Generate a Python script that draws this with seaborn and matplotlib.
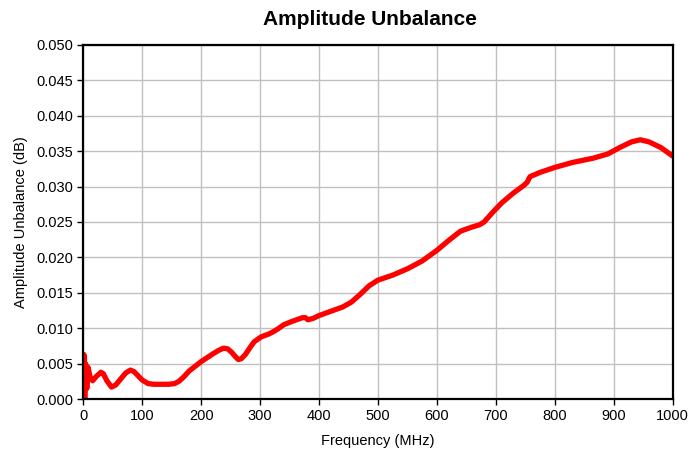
import matplotlib
matplotlib.use("Agg")
import matplotlib.pyplot as plt
import seaborn as sns
import pandas as pd

freq = [0, 1, 2.5, 4, 6, 8, 12, 16, 22, 30, 34, 40, 48, 55, 62, 72, 80, 86,
        93, 100, 110, 120, 130, 145, 155, 162, 170, 180, 200, 220, 230, 238,
        245, 252, 258, 263, 268, 275, 283, 290, 302, 315, 322, 330, 340, 355,
        372, 377, 381, 390, 400, 420, 440, 455, 470, 485, 500, 525, 550, 575,
        600, 620, 640, 660, 672, 680, 695, 710, 730, 748, 753, 758, 775, 800,
        830, 865, 890, 910, 930, 945, 960, 980, 1000]
unbalance = [0.0, 0.0063, 0.0, 0.0050, 0.0015, 0.0045, 0.0030, 0.0026, 0.0032,
             0.0038, 0.0036, 0.0026, 0.0017, 0.0020, 0.0027, 0.0037, 0.0041,
             0.0039, 0.0033, 0.0027, 0.0022, 0.0021, 0.0021, 0.0021, 0.0022,
             0.0025, 0.0031, 0.0040, 0.0053, 0.0064, 0.0069, 0.0072, 0.0071,
             0.0066, 0.0060, 0.0056, 0.0057, 0.0063, 0.0073, 0.0081, 0.0088,
             0.0092, 0.0095, 0.0099, 0.0105, 0.0110, 0.0115, 0.0115, 0.0112,
             0.0114, 0.0118, 0.0124, 0.0130, 0.0137, 0.0148, 0.0160, 0.0168,
             0.0175, 0.0184, 0.0195, 0.0210, 0.0224, 0.0237, 0.0243, 0.0246,
             0.0250, 0.0264, 0.0277, 0.0291, 0.0302, 0.0306, 0.0314, 0.0320,
             0.0327, 0.0334, 0.0340, 0.0346, 0.0355, 0.0363, 0.0366, 0.0363,
             0.0355, 0.0343]
xticks = list(range(0, 1001, 100))
yticks = [i * 0.005 for i in range(11)]

sns.set_style("white")
plt.rcParams['font.family'] = ['Liberation Sans', 'DejaVu Sans']
plt.rcParams['text.color'] = 'black'
plt.rcParams['axes.labelcolor'] = 'black'
plt.rcParams['xtick.color'] = 'black'
plt.rcParams['ytick.color'] = 'black'

df = pd.DataFrame({"Frequency": freq, "Unbalance": unbalance})

fig = plt.figure(figsize=(6.91, 4.62), dpi=100)
ax = fig.add_axes([0.1205, 0.136, 0.853, 0.767])
sns.lineplot(data=df, x="Frequency", y="Unbalance", ax=ax, color="#ff0000",
             linewidth=3.8, solid_joinstyle="round", solid_capstyle="round")

ax.set_xlim(0, 1000)
ax.set_ylim(0, 0.05)
ax.set_xticks(xticks)
ax.set_yticks(yticks)
ax.set_yticklabels([f"{v:.3f}" for v in yticks])
ax.grid(True, color="#c0c0c0", linewidth=1.0)
ax.set_axisbelow(True)
for s in ax.spines.values():
    s.set_color("black")
    s.set_linewidth(1.6)
ax.tick_params(axis="both", direction="out", length=4, width=1, color="black",
               labelcolor="black", labelsize=10.5, bottom=True, left=True, pad=3)
ax.set_xlabel("Frequency (MHz)", fontsize=10.5, labelpad=8, color="black")
ax.set_ylabel("Amplitude Unbalance (dB)", fontsize=10.5, labelpad=6, color="black")
ax.set_title("Amplitude Unbalance", fontsize=15, fontweight="bold", pad=14,
             color="black", x=0.486)

fig.savefig("out.png", dpi=100)
